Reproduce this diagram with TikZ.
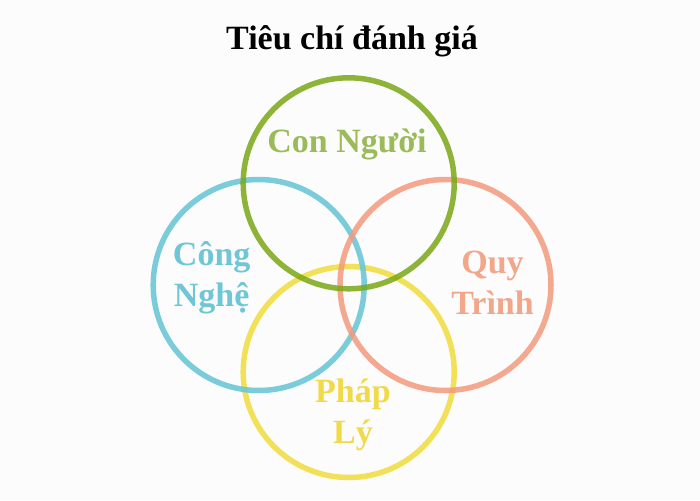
\documentclass[tikz,border=0pt]{standalone}
\usepackage{fontspec}
\setmainfont{Liberation Serif}
\definecolor{cgreen}{RGB}{122,168,22}
\definecolor{cblue}{RGB}{100,196,214}
\definecolor{corange}{RGB}{242,154,124}
\definecolor{cyellow}{RGB}{240,220,60}
\definecolor{tgreen}{RGB}{155,187,89}
\definecolor{tblue}{RGB}{110,198,214}
\definecolor{torange}{RGB}{242,166,138}
\definecolor{tyellow}{RGB}{240,218,74}
\tikzset{
  ring/.style={draw=#1, line width=5.5pt, draw opacity=0.85, circle, minimum size=211pt, inner sep=0pt},
  label/.style={font=\bfseries\fontsize{34}{41}\selectfont, text=#1, align=center, inner sep=0pt},
  titlestyle/.style={font=\bfseries\fontsize{34}{40}\selectfont, anchor=base, inner sep=0pt}
}
\begin{document}
\begin{tikzpicture}[x=1pt,y=-1pt]
\fill[white!99!black] (0,0) rectangle (700,500);
\useasboundingbox (0,0) rectangle (700,500);
\node[titlestyle] (title) at (352,50) {Tiêu chí đánh giá};
\node[ring=cyellow] (phaply) at (348.7,372) {};
\node[ring=cblue] (congnghe) at (258.7,285) {};
\node[ring=corange] (quytrinh) at (445.5,285) {};
\node[ring=cgreen] (connguoi) at (348.7,183.3) {};
\node[label=tgreen] (lgreen) at (347,144) {Con Người};
\node[label=tblue] (lblue) at (211.7,278) {Công\\Nghệ};
\node[label=torange] (lorange) at (492.5,283) {Quy\\Trình};
\node[label=tyellow] (lyellow) at (353,415) {Pháp\\Lý};
\end{tikzpicture}
\end{document}
